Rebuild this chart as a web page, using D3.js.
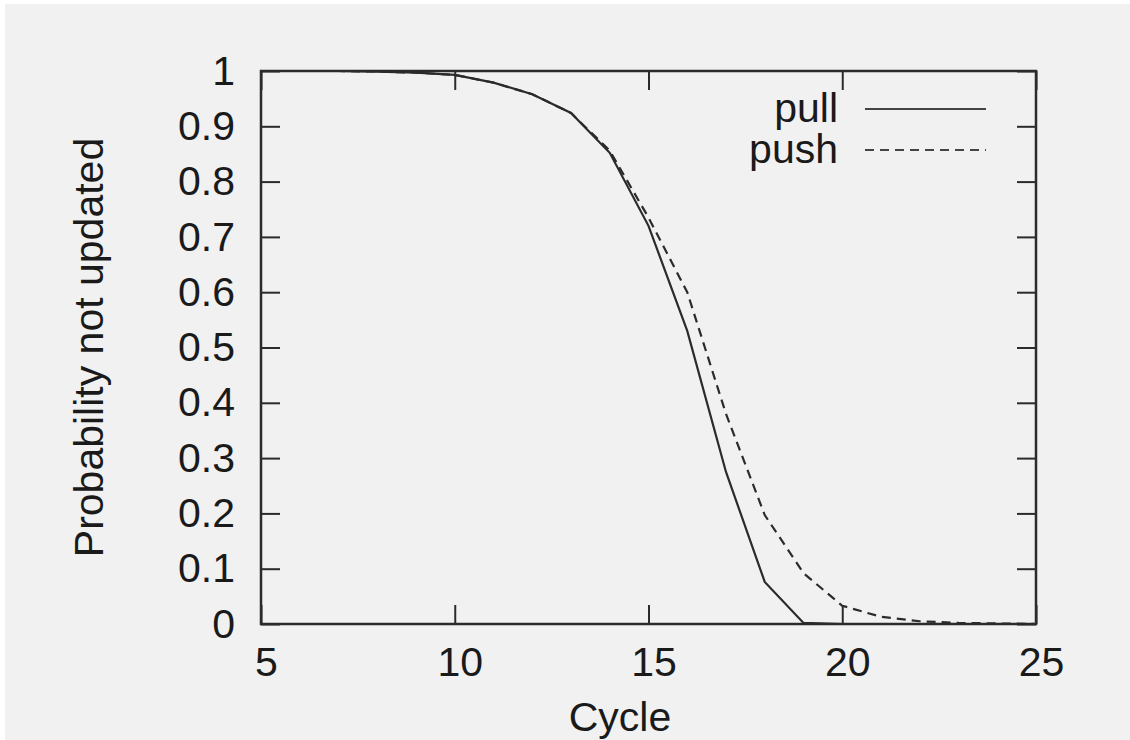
<!DOCTYPE html>
<html>
<head>
<meta charset="utf-8">
<script src="https://cdn.jsdelivr.net/npm/d3@7"></script>
<style>
  body { margin: 0; background: #ffffff; }
  svg text { font-family: "Liberation Sans", Arial, sans-serif; fill: #1a1a1a; }
</style>
</head>
<body>
<svg id="chart" width="1130" height="740"></svg>
<script>
// data, one value per cycle
const cycles = d3.range(5, 26);
const pull = [1, 1, 1, 0.999, 0.997, 0.993, 0.979, 0.958, 0.924, 0.852, 0.72,
  0.53, 0.275, 0.076, 0.002, 0, 0, 0, 0, 0, 0];
const push = [1, 1, 1, 0.999, 0.997, 0.993, 0.979, 0.958, 0.924, 0.856, 0.735,
  0.6, 0.38, 0.197, 0.092, 0.033, 0.013, 0.005, 0.002, 0.001, 0];
const x_ticks = [5, 10, 15, 20, 25];
const y_ticks = [0, 0.1, 0.2, 0.3, 0.4, 0.5, 0.6, 0.7, 0.8, 0.9, 1];
const series = [
  { name: 'pull', values: pull, dash: null },
  { name: 'push', values: push, dash: '9,6' },
];

const margin = { top: 71, bottom: 116, left: 261, right: 94 };
const width = 1130;
const height = 740;
const ink = '#2b2b2b';
const font_size = 41;

let svg = d3.select('#chart');

// light grey canvas with thin white edge on top/left
svg.append('rect')
  .attr('x', 5).attr('y', 4)
  .attr('width', width - 5).attr('height', height - 4)
  .attr('fill', '#f1f1f1');

const xScale = d3.scaleLinear()
  .domain([5, 25])
  .range([margin.left, width - margin.right]);

const yScale = d3.scaleLinear()
  .domain([0, 1])
  .range([height - margin.bottom, margin.top]);

const tick_len = 19;

// axes with inward ticks on all four sides
let g_bottom = svg.append('g')
  .attr('transform', 'translate(0,' + yScale(0) + ')')
  .call(d3.axisBottom(xScale).tickValues(x_ticks).tickSize(-tick_len).tickPadding(23).tickFormat(d3.format('d')));
let g_top = svg.append('g')
  .attr('transform', 'translate(0,' + yScale(1) + ')')
  .call(d3.axisTop(xScale).tickValues(x_ticks).tickSize(-tick_len).tickFormat(''));
let g_left = svg.append('g')
  .attr('transform', 'translate(' + xScale(5) + ',0)')
  .call(d3.axisLeft(yScale).tickValues(y_ticks).tickSize(-tick_len).tickPadding(26).tickFormat(d3.format('')));
let g_right = svg.append('g')
  .attr('transform', 'translate(' + xScale(25) + ',0)')
  .call(d3.axisRight(yScale).tickValues(y_ticks).tickSize(-tick_len).tickFormat(''));

[g_bottom, g_top, g_left, g_right].forEach((g) => {
  g.select('.domain').remove();
  g.selectAll('line').attr('stroke', ink).attr('stroke-width', 2);
  g.selectAll('text').attr('font-size', font_size).attr('fill', '#1a1a1a')
    .attr('font-family', '"Liberation Sans", Arial, sans-serif');
});
g_bottom.selectAll('text').attr('dx', 5);

// frame
svg.append('rect')
  .attr('x', xScale(5)).attr('y', yScale(1))
  .attr('width', xScale(25) - xScale(5))
  .attr('height', yScale(0) - yScale(1))
  .attr('fill', 'none')
  .attr('stroke', ink)
  .attr('stroke-width', 2.5);

// curves
const line = d3.line()
  .x((d, i) => xScale(cycles[i]))
  .y((d) => yScale(d));

svg.selectAll('.curve')
  .data(series)
  .enter()
  .append('path')
  .attr('class', 'curve')
  .attr('d', (d) => line(d.values))
  .attr('fill', 'none')
  .attr('stroke', ink)
  .attr('stroke-width', 2.2)
  .attr('stroke-dasharray', (d) => d.dash);

// legend
let legend = svg.selectAll('.legend')
  .data(series)
  .enter()
  .append('g')
  .attr('class', 'legend')
  .attr('transform', (d, i) => 'translate(0,' + (109 + i * 41) + ')');

legend.append('text')
  .attr('x', 838)
  .attr('y', 13)
  .attr('text-anchor', 'end')
  .attr('font-size', font_size)
  .text((d) => d.name);

legend.append('line')
  .attr('x1', 865).attr('x2', 986)
  .attr('y1', 0).attr('y2', 0)
  .attr('stroke', '#444')
  .attr('stroke-width', 2)
  .attr('stroke-dasharray', (d) => d.dash);

// axis labels
svg.append('text')
  .attr('x', 620)
  .attr('y', 731)
  .attr('text-anchor', 'middle')
  .attr('font-size', font_size)
  .text('Cycle');

svg.append('text')
  .attr('transform', 'translate(103,' + (yScale(0.5)) + ') rotate(-90)')
  .attr('text-anchor', 'middle')
  .attr('font-size', font_size)
  .text('Probability not updated');
</script>
</body>
</html>
